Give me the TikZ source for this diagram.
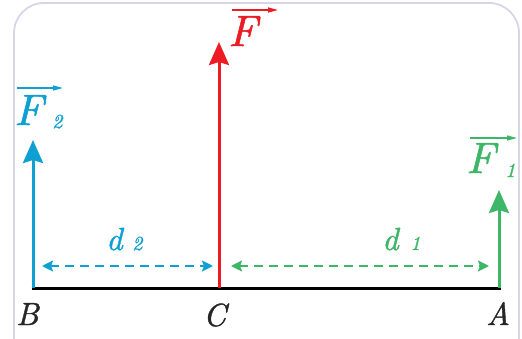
\documentclass[tikz,border=0pt]{standalone}
\usepackage{fontspec}
\newfontfamily\lmit{lmroman10-italic}[Extension=.otf,FakeBold=1.2]
\usetikzlibrary{arrows.meta}
\definecolor{fblue}{RGB}{14,160,210}
\definecolor{fred}{RGB}{237,28,36}
\definecolor{fgreen}{RGB}{61,182,104}
\definecolor{frame}{RGB}{214,214,232}
\tikzset{
  force/.style={line width=3pt,-{Stealth[length=23pt,width=20pt,inset=3pt]}},
  dist/.style={line width=2.8pt,dash pattern=on 9pt off 6pt,{Stealth[length=11pt,width=11pt,inset=2pt]}-{Stealth[length=11pt,width=11pt,inset=2pt]}},
  vecar/.style={line width=1.4pt,-{Triangle[length=10pt,width=5pt]}},
  bigF/.style={inner sep=0pt,anchor=base west,font=\fontsize{44}{48}\selectfont\lmit},
  sub/.style={inner sep=0pt,anchor=base west,font=\fontsize{20}{24}\selectfont\lmit},
  pt/.style={inner sep=0pt,anchor=base west,font=\fontsize{32}{36}\selectfont\lmit}
}
\begin{document}
\begin{tikzpicture}[x=1pt,y=-1pt]
\useasboundingbox (0,0) rectangle (522,338);
\draw[frame,line width=1.8pt,rounded corners=30pt] (14,345) -- (14,3) -- (519,3) -- (519,345);
% points
\coordinate (B) at (33,288);
\coordinate (C) at (219,288);
\coordinate (A) at (499,288);
\coordinate (F2tip) at (33,140);
\coordinate (Ftip) at (219,42);
\coordinate (F1tip) at (499,190);
\coordinate (d2a) at (42,266);
\coordinate (d2b) at (213,266);
\coordinate (d1a) at (231,266);
\coordinate (d1b) at (489,266);
% beam
\draw[line width=3pt] ([xshift=-1.5pt]B) -- ([xshift=1.5pt]A);
% forces
\draw[force,fblue] (B) -- (F2tip);
\draw[force,fred] (C) -- (Ftip);
\draw[force,fgreen] (A) -- (F1tip);
% distances
\draw[dist,fblue] (d2a) -- (d2b);
\draw[dist,fgreen] (d1a) -- (d1b);
% labels
\node[bigF,text=fred] (Flab) at (228,46) {F};
\node[bigF,text=fblue] (F2lab) at (14,125) {F};
\node[sub,text=fblue] (F2sub) at (52,128) {2};
\node[bigF,text=fgreen] (F1lab) at (466,173) {F};
\node[sub,text=fgreen] (F1sub) at (505,177) {1};
\draw[vecar,fred] (232,10) -- (278,10);
\draw[vecar,fblue] (17,88) -- (63,88);
\draw[vecar,fgreen] (470,138) -- (517,138);
\node[pt,text=fblue] (d2lab) at (106,250) {d};
\node[sub,text=fblue] (d2sub) at (132,250) {2};
\node[pt,text=fgreen] (d1lab) at (382,250) {d};
\node[sub,text=fgreen] (d1sub) at (410,250) {1};
\node[pt,text=black!85] (Blab) at (16,325) {B};
\node[pt,text=black!85] (Clab) at (203,326) {C};
\node[pt,text=black!85] (Alab) at (486,325) {A};
\end{tikzpicture}
\end{document}
